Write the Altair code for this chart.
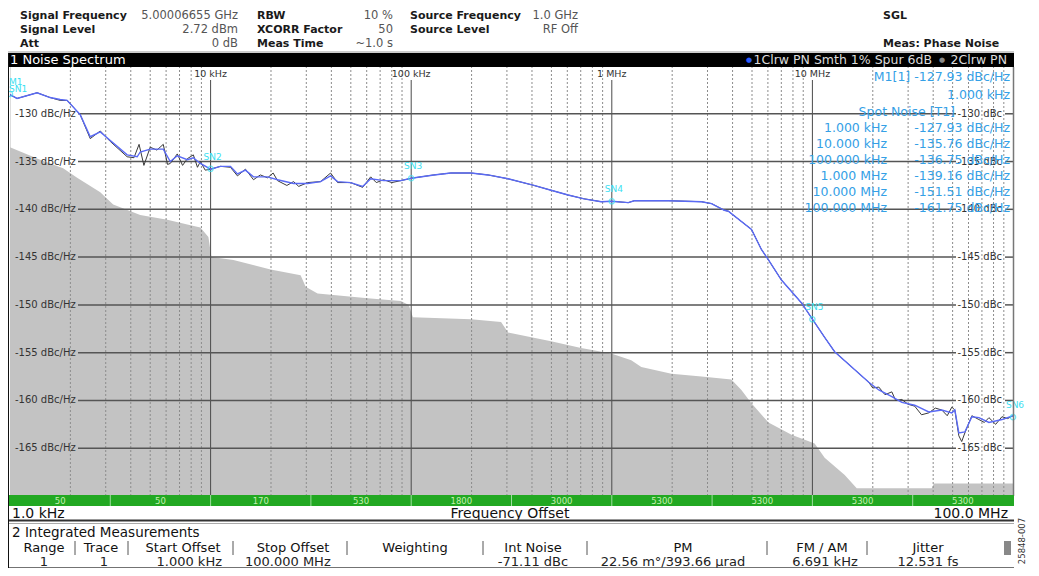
import altair as alt
import pandas as pd

# ---------------- data ----------------
TRACE_FREQ = [
    1000, 1084, 1365, 1585, 1778, 1926, 2239, 2512, 2818, 3162,
    3838, 4306, 4457, 5000, 5808, 6295, 6823, 7656, 8204, 8892,
    10000, 11190, 12560, 13610, 14920, 16360, 19220, 21570, 25920, 30470,
    35320, 39630, 42960, 49890, 57280, 62810, 72950, 88760, 100000, 129700,
    157700, 198600, 241500, 303700, 409300, 497700, 605300, 727800, 885100, 1000000,
    1208000, 1294000, 1914000, 2799000, 3141000, 3640000, 3810000, 4970000, 5570000, 6040000,
    7010000, 8830000, 10000000, 11510000, 12910000, 15700000, 19100000, 21430000, 24890000, 27920000,
    32360000, 38020000, 44160000, 49550000, 51290000, 53700000, 57540000, 62370000, 67610000, 75860000,
    88100000, 100000000,
]
TRACE_DB = [
    -128.0, -128.4, -127.8, -128.3, -128.5, -128.6, -130.1, -132.4, -131.9, -132.8,
    -134.3, -134.5, -134.0, -133.7, -133.7, -135.0, -134.4, -134.8, -134.6, -135.2,
    -135.8, -135.5, -135.5, -136.3, -135.9, -136.6, -136.6, -136.9, -137.3, -137.3,
    -137.1, -136.5, -137.1, -137.2, -137.6, -136.8, -137.0, -137.0, -136.75, -136.4,
    -136.2, -136.2, -136.4, -136.8, -137.5, -138.0, -138.5, -138.9, -139.2, -139.16,
    -139.3, -139.1, -139.1, -139.2, -139.4, -140.1, -140.2, -142.1, -144.2, -145.3,
    -147.4, -149.8, -151.5, -153.4, -154.9, -156.5, -158.1, -158.9, -159.6, -160.2,
    -160.5, -161.2, -161.0, -161.3, -161.0, -163.4, -163.3, -161.7, -161.8, -162.3,
    -162.0, -161.6,
]

RAW_FREQ = [
    1000, 1084, 1365, 1585, 1778, 1926, 2239, 2512, 2818, 3162,
    3838, 4150, 4400, 4650, 5000, 5400, 5808, 6100, 6295, 6823,
    7250, 7656, 8204, 8600, 8892, 9400, 10000, 11190, 12560, 13610,
    14920, 16360, 17700, 19220, 20500, 21570, 24000, 25920, 27500, 30470,
    35320, 39630, 42960, 49890, 57280, 62810, 67000, 72950, 80000, 88760,
    100000, 129700, 157700, 198600, 241500, 303700, 409300, 497700, 605300, 727800,
    885100, 1000000, 1208000, 1294000, 1914000, 2799000, 3141000, 3640000, 3810000, 4970000,
    5570000, 6040000, 7010000, 8830000, 10000000, 11510000, 12910000, 15700000, 19100000, 20000000,
    21430000, 23000000, 24890000, 26000000, 27920000, 30000000, 32360000, 35000000, 38020000, 41000000,
    44160000, 47000000, 49550000, 51290000, 53700000, 55500000, 57540000, 62370000, 67610000, 72000000,
    75860000, 82000000, 88100000, 94000000, 100000000,
]
RAW_DB = [
    -128.0, -128.4, -127.8, -128.3, -128.6, -128.6, -130.1, -132.6, -131.8, -132.9,
    -134.5, -134.6, -133.2, -135.4, -133.5, -133.8, -133.2, -135.3, -135.2, -134.2,
    -135.4, -134.7, -134.3, -135.6, -135.0, -135.9, -135.8, -135.5, -135.6, -136.5,
    -135.8, -136.9, -136.4, -136.7, -136.2, -137.0, -137.5, -137.1, -137.6, -137.2,
    -137.1, -136.2, -137.2, -137.2, -137.7, -136.6, -137.2, -136.9, -137.2, -137.0,
    -136.75, -136.4, -136.2, -136.2, -136.4, -136.8, -137.5, -138.0, -138.5, -138.9,
    -139.2, -139.16, -139.3, -139.1, -139.1, -139.2, -139.4, -140.1, -140.2, -142.1,
    -144.2, -145.3, -147.4, -149.8, -151.5, -153.4, -154.9, -156.5, -158.1, -158.7,
    -158.6, -159.4, -159.1, -160.0, -159.9, -160.4, -160.6, -161.5, -161.3, -160.8,
    -161.0, -161.6, -160.7, -161.0, -163.7, -164.3, -163.4, -161.6, -162.0, -162.3,
    -161.8, -162.5, -161.7, -161.9, -161.6,
]

FLOOR_FREQ = [
    1000, 1413, 1840, 2161, 2818, 3268, 4457, 6085, 7656, 8892,
    9750, 10100, 13000, 19900, 28100, 29780, 34140, 60690, 88760, 97300,
    101900, 198600, 280500, 304000, 497700, 703100, 993200, 1250000, 1403000, 1982000,
    2799000, 3945000, 4426000, 4966000, 6040000, 7870000, 10260000, 11510000, 14490000, 16630000,
    39360000, 40300000, 100000000,
]
FLOOR_DB = [
    -133.5, -134.8, -135.7, -136.7, -138.2, -139.5, -140.6, -141.1, -141.6, -141.9,
    -142.9, -145.0, -145.3, -146.3, -146.9, -148.1, -148.8, -149.3, -149.6, -150.0,
    -151.3, -151.5, -151.8, -152.9, -153.8, -154.5, -155.1, -155.8, -156.5, -157.2,
    -157.5, -157.8, -158.9, -160.3, -162.3, -163.6, -164.5, -166.0, -167.8, -169.2,
    -169.2, -168.7, -168.7,
]
FLOOR_BASE = -170

SPOT_FREQ = [1e3, 1e4, 1e5, 1e6, 1e7, 1e8]
SPOT_DB = [-127.93, -135.76, -136.75, -139.16, -151.51, -161.75]
SPOT_NAMES = ["SN1", "SN2", "SN3", "SN4", "SN5", "SN6"]
SPOT_FREQ_TEXT = ["1.000 kHz", "10.000 kHz", "100.000 kHz", "1.000 MHz", "10.000 MHz", "100.000 MHz"]
SPOT_DB_TEXT = ["-127.93 dBc/Hz", "-135.76 dBc/Hz", "-136.75 dBc/Hz", "-139.16 dBc/Hz", "-151.51 dBc/Hz", "-161.75 dBc/Hz"]

GRID_DB = [-130, -135, -140, -145, -150, -155, -160, -165]
GRID_LEFT_TEXT = ["-130 dBc/Hz", "-135 dBc/Hz", "-140 dBc/Hz", "-145 dBc/Hz",
                  "-150 dBc/Hz", "-155 dBc/Hz", "-160 dBc/Hz", "-165 dBc/Hz"]
GRID_RIGHT_TEXT = ["-130 dBc", "-135 dBc", "-140 dBc", "-145 dBc",
                   "-150 dBc", "-155 dBc", "-160 dBc", "-165 dBc"]

DECADE_FREQ = [1e4, 1e5, 1e6, 1e7]
DECADE_TEXT = ["10 kHz", "100 kHz", "1 MHz", "10 MHz"]
MINOR_MULT = [2, 3, 4, 5, 6, 7, 8, 9]
MINOR_BASE = [1e3, 1e4, 1e5, 1e6, 1e7]

XCORR_EDGE = [3162, 10000, 31623, 100000, 316228, 1000000, 3162278, 10000000, 31622777]
XCORR_MID = [1778, 5623, 17783, 56234, 177828, 562341, 1778279, 5623413, 17782794, 56234133]
XCORR_TEXT = ["50", "50", "170", "530", "1800", "3000", "5300", "5300", "5300", "5300"]

# ---------------- layout / style ----------------
W, H = 1003, 430
FONT = "DejaVu Sans"
CYAN = "#3ce0f2"
MBLUE = "#34a0e6"
XS = alt.Scale(type="log", domain=[1000, 1e8], nice=False)
YS = alt.Scale(domain=[-170, -125], nice=False, zero=False)
ONE = pd.DataFrame({"a": [0]})


def X(field="f"):
    return alt.X(f"{field}:Q", scale=XS, axis=None)


def Y(field="db"):
    return alt.Y(f"{field}:Q", scale=YS, axis=None)


def box(x0, x1, y0, y1, color):
    return alt.Chart(ONE).mark_rect(color=color).encode(
        x=alt.value(x0), x2=alt.value(x1), y=alt.value(y0), y2=alt.value(y1))


def hline(x0, x1, y, color, width=1.0):
    return alt.Chart(ONE).mark_rule(color=color, strokeWidth=width).encode(
        x=alt.value(x0), x2=alt.value(x1), y=alt.value(y))


def vline(x, y0, y1, color, width=1.0):
    return alt.Chart(ONE).mark_rule(color=color, strokeWidth=width).encode(
        x=alt.value(x), y=alt.value(y0), y2=alt.value(y1))


def texts(items, **style):
    df = pd.DataFrame(items, columns=["t", "px", "py"])
    st = dict(font=FONT, baseline="middle")
    st.update(style)
    return alt.Chart(df).mark_text(**st).encode(
        text="t:N",
        x=alt.X("px:Q", scale=None, axis=None),
        y=alt.Y("py:Q", scale=None, axis=None))


trace = pd.DataFrame({"f": TRACE_FREQ, "db": TRACE_DB})
raw = pd.DataFrame({"f": RAW_FREQ, "db": RAW_DB})
floor = pd.DataFrame({"f": FLOOR_FREQ, "db": FLOOR_DB})
floor["base"] = FLOOR_BASE
spots = pd.DataFrame({"f": SPOT_FREQ, "db": SPOT_DB, "name": SPOT_NAMES})
grid = pd.DataFrame({"db": GRID_DB, "lt": GRID_LEFT_TEXT, "rt": GRID_RIGHT_TEXT})
decades = pd.DataFrame({"f": DECADE_FREQ, "t": DECADE_TEXT})
minor = pd.DataFrame({"f": [m * b for b in MINOR_BASE for m in MINOR_MULT]})
xedge = pd.DataFrame({"f": XCORR_EDGE})
xmid = pd.DataFrame({"f": XCORR_MID, "t": XCORR_TEXT})

layers = []

# noise floor (gray)
layers.append(alt.Chart(floor).mark_area(color="#c3c3c3", interpolate="linear").encode(
    x=X(), y=Y(), y2=alt.Y2("base:Q")))

# vertical grid
layers.append(alt.Chart(minor).mark_rule(color="#8c8c8c", strokeDash=[2, 2], strokeWidth=1).encode(
    x=X(), y=alt.value(0), y2=alt.value(H)))
layers.append(alt.Chart(decades).mark_rule(color="#4a4a4a", strokeWidth=1).encode(
    x=X(), y=alt.value(14), y2=alt.value(H)))
layers.append(alt.Chart(decades).mark_text(font=FONT, fontSize=9.5, color="#333", baseline="middle").encode(
    x=X(), y=alt.value(8), text="t:N"))

# horizontal grid and its labels
layers.append(alt.Chart(grid).mark_rule(color="#555", strokeWidth=1.5).encode(
    y=Y(), x=alt.value(68), x2=alt.value(946)))
layers.append(alt.Chart(grid).mark_rule(color="#555", strokeWidth=1.5).encode(
    y=Y(), x=alt.value(995), x2=alt.value(W)))
layers.append(alt.Chart(grid).mark_text(font=FONT, fontSize=10, color="#333", align="left", baseline="middle").encode(
    y=Y(), x=alt.value(5), text="lt:N"))
layers.append(alt.Chart(grid).mark_text(font=FONT, fontSize=10, color="#333", align="right", baseline="middle").encode(
    y=Y(), x=alt.value(992), text="rt:N"))

# traces
layers.append(alt.Chart(raw).mark_line(color="#3a3a3a", strokeWidth=1).encode(x=X(), y=Y()))
layers.append(alt.Chart(trace).mark_line(color="#5a6af5", strokeWidth=1.4).encode(x=X(), y=Y()))

# spot noise markers
layers.append(alt.Chart(spots).mark_point(shape="circle", filled=False, color=CYAN, size=28, strokeWidth=1.3).encode(
    x=X(), y=Y()))
layers.append(alt.Chart(spots.iloc[1:]).mark_text(font=FONT, fontSize=9, color=CYAN, dy=-12, dx=2, baseline="middle").encode(
    x=X(), y=Y(), text="name:N"))
layers.append(alt.Chart(spots.iloc[:1]).mark_text(font=FONT, fontSize=9, color=CYAN, dy=-5, dx=-1, align="left", baseline="middle").encode(
    x=X(), y=Y(), text="name:N"))
layers.append(alt.Chart(spots.iloc[:1]).mark_text(font=FONT, fontSize=9, color=CYAN, dy=-12, dx=-1, align="left", baseline="middle").encode(
    x=X(), y=Y(), text=alt.value("M1")))

# marker table (top right)
layers.append(texts([("M1[1] -127.93 dBc/Hz", 1000, 11), ("1.000 kHz", 1000, 29)],
                    fontSize=12.5, color=MBLUE, align="right"))
layers.append(texts([("Spot Noise [T1]", 945, 46)], fontSize=12.5, color=MBLUE, align="right"))
layers.append(texts([(t, 877, 62 + 16 * i) for i, t in enumerate(SPOT_FREQ_TEXT)],
                    fontSize=12.5, color=MBLUE, align="right"))
layers.append(texts([(t, 1000, 62 + 16 * i) for i, t in enumerate(SPOT_DB_TEXT)],
                    fontSize=12.5, color=MBLUE, align="right"))

# right border of plot
layers.append(vline(W + 0.5, 1, H, "#777", 1.5))

# header bar
layers.append(hline(-3, W + 1, -14, "#999", 1))
layers.append(box(-3, W + 1, -13, 1, "#000"))
layers.append(texts([("1 Noise Spectrum", 0, -6)], fontSize=13, color="#fff", align="left"))
layers.append(texts([("1Clrw PN Smth 1% Spur 6dB", 922, -6), ("2Clrw PN", 997, -6)],
                    fontSize=12.5, color="#dcdcdc", align="right"))
layers.append(texts([("\u25cf", 739, -6)], fontSize=7, color="#2a5cff", align="center"))
layers.append(texts([("\u25cf", 932, -6)], fontSize=7, color="#888", align="center"))

# instrument settings
layers.append(texts([("Signal Frequency", 10, -50), ("Signal Level", 10, -36), ("Att", 10, -22),
                     ("RBW", 247, -50), ("XCORR Factor", 247, -36), ("Meas Time", 247, -22),
                     ("Source Frequency", 400, -50), ("Source Level", 400, -36),
                     ("SGL", 873, -50), ("Meas: Phase Noise", 873, -22)],
                    fontSize=11, fontWeight="bold", color="#1a1a1a", align="left"))
layers.append(texts([("5.00006655 GHz", 228, -50), ("2.72 dBm", 228, -36), ("0 dB", 228, -22),
                     ("10 %", 383, -50), ("50", 383, -36), ("~1.0 s", 383, -22),
                     ("1.0 GHz", 568, -50), ("RF Off", 568, -36)],
                    fontSize=11.5, color="#555", align="right"))

# xcorr bar (green)
layers.append(box(-2, W + 1, 429, 440, "#22a822"))
layers.append(alt.Chart(xedge).mark_rule(color="#9ddc9d", strokeWidth=1).encode(
    x=X(), y=alt.value(429), y2=alt.value(440)))
layers.append(alt.Chart(xmid).mark_text(font=FONT, fontSize=8.5, color="#c4f0b0", baseline="middle").encode(
    x=X(), y=alt.value(435), text="t:N"))

# frequency row
layers.append(texts([("1.0 kHz", 2, 448)], fontSize=14, color="#111", align="left"))
layers.append(texts([("Frequency Offset", 500, 448)], fontSize=14, color="#111", align="center"))
layers.append(texts([("100.0 MHz", 998, 448)], fontSize=14, color="#111", align="right"))
layers.append(hline(-3, W + 1, 454.5, "#333", 2))
layers.append(hline(-3, W + 1, 457.5, "#aaa", 1))

# integrated measurements table
layers.append(texts([("2 Integrated Measurements", 2, 467)], fontSize=13.5, color="#111", align="left"))
layers.append(texts([("Range", 34, 482), ("Trace", 91, 482), ("Start Offset", 173, 482),
                     ("Stop Offset", 283, 482), ("Weighting", 405, 482), ("Int Noise", 523, 482),
                     ("PM", 673, 482), ("FM / AM", 812, 482), ("Jitter", 918, 482)],
                    fontSize=13, color="#111", align="center"))
for sx in [65, 118, 223, 337, 473, 577, 757, 857]:
    layers.append(vline(sx, 475, 489, "#555", 1))
layers.append(box(994, 1001, 475, 489, "#888"))
layers.append(texts([("1", 34, 496), ("1", 94, 496), ("-71.11 dBc", 523, 496),
                     ("22.56 m\u00b0/393.66 \u00b5rad", 663, 496), ("6.691 kHz", 815, 496),
                     ("12.531 fs", 918, 496)],
                    fontSize=13, color="#222", align="center"))
layers.append(texts([("1.000 kHz", 212, 496)], fontSize=13, color="#222", align="right"))
layers.append(texts([("100.000 MHz", 235, 496)], fontSize=13, color="#222", align="left"))
layers.append(hline(-3, W + 1, 502, "#444", 1.5))

# left frame
layers.append(box(-3, -1, -13, 503, "#111"))

# figure id
layers.append(texts([("25848-007", 1012, 475)], fontSize=8.5, color="#333", align="center", angle=270))

chart = alt.layer(*layers).properties(
    width=W, height=H,
    autosize=alt.AutoSizeParams(type="none"),
    padding={"left": 2, "top": 58, "right": 18, "bottom": 72},
).configure_view(stroke=None).configure(background="white")

chart.save("out.html", embed_options={"renderer": "svg", "actions": False})
